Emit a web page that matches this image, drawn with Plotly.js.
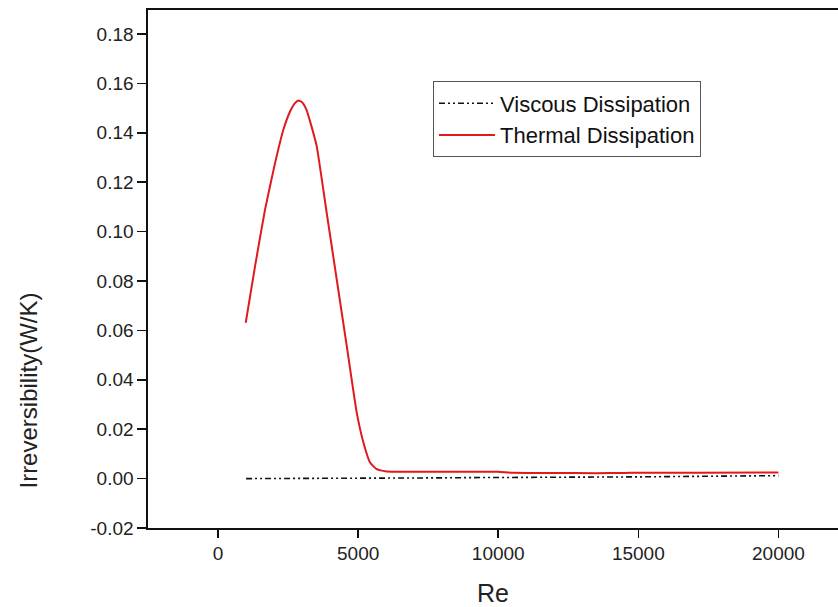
<!DOCTYPE html>
<html>
<head>
<meta charset="utf-8">
<script src="https://cdn.plot.ly/plotly-3.0.1.min.js"></script>
<style>html,body{margin:0;padding:0;background:#fff;}#chart{width:838px;height:607px;}</style>
</head>
<body>
<div id="chart"></div>
<script>
// Thermal dissipation (Re, W/K)
const reThermal = [988, 1321, 1677, 2034, 2331, 2570, 2730, 2866, 3000, 3150, 3300, 3522, 3879, 4236, 4593, 4950, 5188, 5425, 5663, 6020, 7000, 8000, 9000, 10000, 10500, 12000, 13500, 14500, 15000, 17000, 20000];
const thermal   = [0.0631, 0.0860, 0.1089, 0.1277, 0.1412, 0.1486, 0.1518, 0.1531, 0.1524, 0.1495, 0.1440, 0.1345, 0.1075, 0.0806, 0.0537, 0.0267, 0.0146, 0.0065, 0.0038, 0.0029, 0.0028, 0.0028, 0.0028, 0.0028, 0.0024, 0.0023, 0.0022, 0.0023, 0.0024, 0.0024, 0.0025];

// Viscous dissipation (Re, W/K)
const reViscous = [1000, 2000, 3000, 4000, 5000, 6000, 7000, 8000, 9000, 10000, 11000, 12000, 13000, 14000, 15000, 16000, 17000, 18000, 19000, 20000];
const viscous   = [0.0000, 0.0000, 0.0001, 0.0001, 0.0002, 0.0002, 0.0003, 0.0003, 0.0004, 0.0004, 0.0005, 0.0005, 0.0006, 0.0007, 0.0007, 0.0008, 0.0009, 0.0010, 0.0011, 0.0012];

const seriesNames = ["Viscous Dissipation", "Thermal Dissipation"];
const xTitle = "Re";
const yTitle = "Irreversibility(W/K)";

const FONT = "Liberation Sans, Arial, sans-serif";

const traces = [
  {
    x: reViscous, y: viscous, name: seriesNames[0], type: "scatter", mode: "lines",
    line: {color: "#111111", width: 1.6, dash: "6px,3px,2px,3px,2px,3px"}
  },
  {
    x: reThermal, y: thermal, name: seriesNames[1], type: "scatter", mode: "lines",
    line: {color: "#e0191f", width: 2, shape: "spline", smoothing: 0.4}
  }
];

const layout = {
  width: 838, height: 607,
  margin: {l: 148, r: 0, t: 10, b: 79, pad: 0},
  paper_bgcolor: "#ffffff", plot_bgcolor: "#ffffff",
  font: {family: FONT, color: "#222222"},
  showlegend: true,
  legend: {
    x: 0.413, y: 0.862, xanchor: "left", yanchor: "top",
    bordercolor: "#555555", borderwidth: 1, bgcolor: "#ffffff",
    font: {family: FONT, size: 22, color: "#111111"},
    itemwidth: 56,
    tracegroupgap: 0
  },
  xaxis: {
    range: [-2500, 22126], showgrid: false, zeroline: false,
    showline: true, linecolor: "#111111", linewidth: 1.6, mirror: true,
    ticks: "outside", ticklen: 8, tickwidth: 1.6, tickcolor: "#111111",
    tickvals: [0, 5000, 10000, 15000, 20000],
    ticktext: ["0", "5000", "10000", "15000", "20000"],
    tickfont: {family: FONT, size: 19, color: "#222222"},
    title: {text: xTitle, font: {family: FONT, size: 25, color: "#222222"}, standoff: 24}
  },
  yaxis: {
    range: [-0.02, 0.1897], showgrid: false, zeroline: false,
    showline: true, linecolor: "#111111", linewidth: 1.6, mirror: false,
    ticks: "outside", ticklen: 9, tickwidth: 1.6, tickcolor: "#111111",
    tickvals: [-0.02, 0, 0.02, 0.04, 0.06, 0.08, 0.10, 0.12, 0.14, 0.16, 0.18],
    ticktext: ["-0.02", "0.00", "0.02", "0.04", "0.06", "0.08", "0.10", "0.12", "0.14", "0.16", "0.18"],
    tickfont: {family: FONT, size: 19, color: "#222222"}
  },
  annotations: [
    {
      text: yTitle, xref: "paper", yref: "y", x: -0.173, y: 0.0355,
      xanchor: "center", yanchor: "middle", textangle: -90, showarrow: false,
      font: {family: FONT, size: 24, color: "#222222"}
    }
  ]
};

Plotly.newPlot("chart", traces, layout, {displayModeBar: false, staticPlot: true});
</script>
</body>
</html>
